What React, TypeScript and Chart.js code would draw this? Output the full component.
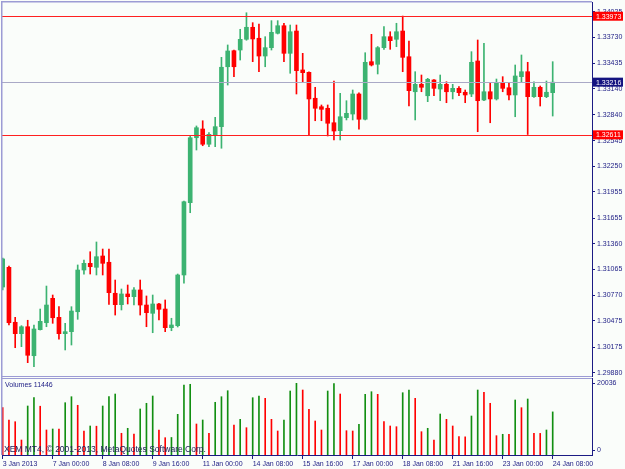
import React, { useEffect, useRef } from 'react';
import { Chart, registerables } from 'chart.js';
Chart.register(...registerables);

// ---- data ----
const TIME_LABELS = ['3 Jan 2013', '7 Jan 00:00', '8 Jan 08:00', '9 Jan 16:00', '11 Jan 00:00', '14 Jan 08:00', '15 Jan 16:00', '17 Jan 00:00', '18 Jan 08:00', '21 Jan 16:00', '23 Jan 00:00', '24 Jan 08:00'];
const LABEL_EVERY = 8;

const OPEN = [1.30864, 1.31090, 1.30459, 1.30328, 1.30408, 1.30075, 1.30374, 1.30454, 1.30734, 1.30516,
  1.30328, 1.30351, 1.30580, 1.31059, 1.31136, 1.31090, 1.31220, 1.31148, 1.30792, 1.30661,
  1.30784, 1.30753, 1.30830, 1.30657, 1.30562, 1.30669, 1.30611, 1.30397, 1.30420, 1.31002,
  1.31832, 1.32578, 1.32678, 1.32503, 1.32609, 1.32705, 1.33393, 1.33577, 1.33585, 1.33708,
  1.33846, 1.33720, 1.33516, 1.33612, 1.33777, 1.33864, 1.33547, 1.33803, 1.33356, 1.33329,
  1.33031, 1.32934, 1.32916, 1.32750, 1.32659, 1.32808, 1.32850, 1.33080, 1.32790, 1.33451,
  1.33421, 1.33612, 1.33738, 1.33708, 1.33803, 1.33508, 1.33106, 1.33191, 1.33060, 1.33241,
  1.33137, 1.33191, 1.33106, 1.33145, 1.33100, 1.33080, 1.33459, 1.33011, 1.33106, 1.33023,
  1.33203, 1.33152, 1.33069, 1.33279, 1.33336, 1.33049, 1.33157, 1.33049, 1.33095];
const HIGH = [1.31197, 1.31105, 1.30516, 1.30420, 1.30482, 1.30428, 1.30611, 1.30875, 1.30772, 1.30638,
  1.30447, 1.30638, 1.31117, 1.31174, 1.31269, 1.31381, 1.31300, 1.31300, 1.30944, 1.30841,
  1.30887, 1.30856, 1.30944, 1.30761, 1.30772, 1.30677, 1.30715, 1.30505, 1.31013, 1.31850,
  1.32598, 1.32713, 1.32773, 1.32636, 1.32812, 1.33501, 1.33643, 1.33585, 1.33823, 1.34013,
  1.33899, 1.33884, 1.33738, 1.33922, 1.33922, 1.33892, 1.33872, 1.33872, 1.33547, 1.33335,
  1.33157, 1.32954, 1.32954, 1.33229, 1.33088, 1.33003, 1.33126, 1.33092, 1.33554, 1.33765,
  1.33625, 1.33853, 1.33795, 1.33892, 1.33975, 1.33689, 1.33336, 1.33298, 1.33260, 1.33246,
  1.33298, 1.33221, 1.33191, 1.33164, 1.33126, 1.33566, 1.33700, 1.33662, 1.33203, 1.33252,
  1.33279, 1.33203, 1.33413, 1.33528, 1.33444, 1.33221, 1.33172, 1.33229, 1.33451];
const LOW = [1.30830, 1.30428, 1.30167, 1.30179, 1.29995, 1.29949, 1.30370, 1.30408, 1.30447, 1.30264,
  1.30141, 1.30198, 1.30493, 1.31010, 1.31013, 1.31002, 1.31002, 1.30665, 1.30542, 1.30600,
  1.30669, 1.30657, 1.30542, 1.30408, 1.30339, 1.30485, 1.30351, 1.30362, 1.30405, 1.30907,
  1.31717, 1.32437, 1.32486, 1.32475, 1.32475, 1.32457, 1.33183, 1.33279, 1.33470, 1.33697,
  1.33451, 1.33336, 1.33393, 1.33585, 1.33769, 1.33451, 1.33318, 1.33080, 1.33221, 1.32609,
  1.32773, 1.32773, 1.32598, 1.32552, 1.32552, 1.32782, 1.32782, 1.32675, 1.32782, 1.33402,
  1.33310, 1.33593, 1.33593, 1.33623, 1.33336, 1.32942, 1.32782, 1.33106, 1.32992, 1.33060,
  1.33003, 1.32980, 1.33023, 1.33060, 1.32980, 1.33049, 1.32647, 1.33003, 1.32750, 1.33011,
  1.33106, 1.33011, 1.32819, 1.33221, 1.32615, 1.33040, 1.32942, 1.33038, 1.32827];
const CLOSE = [1.31186, 1.30454, 1.30328, 1.30408, 1.30080, 1.30382, 1.30470, 1.30657, 1.30511, 1.30328,
  1.30351, 1.30588, 1.31059, 1.31136, 1.31097, 1.31212, 1.31136, 1.30799, 1.30661, 1.30784,
  1.30753, 1.30830, 1.30657, 1.30569, 1.30669, 1.30608, 1.30397, 1.30428, 1.31002, 1.31843,
  1.32578, 1.32693, 1.32503, 1.32617, 1.32705, 1.33387, 1.33574, 1.33393, 1.33708, 1.33846,
  1.33712, 1.33516, 1.33612, 1.33788, 1.33864, 1.33547, 1.33795, 1.33348, 1.33325, 1.33023,
  1.32916, 1.32904, 1.32744, 1.32655, 1.32819, 1.32858, 1.33080, 1.32790, 1.33444, 1.33413,
  1.33612, 1.33738, 1.33692, 1.33795, 1.33501, 1.33118, 1.33191, 1.33157, 1.33249, 1.33145,
  1.33191, 1.33106, 1.33145, 1.33095, 1.33069, 1.33444, 1.33003, 1.33106, 1.33023, 1.33203,
  1.33145, 1.33069, 1.33287, 1.33336, 1.33049, 1.33157, 1.33049, 1.33100, 1.33216];
const VOLUME = [12710, 9010, 8500, 3000, 13220, 15710, 13150, 6010, 6310, 6250,
  14210, 16010, 13430, 5710, 7210, 7150, 13220, 16010, 16820, 5020,
  6520, 4810, 12320, 14030, 16220, 6010, 3700, 3760, 10720, 19530,
  19740, 7810, 9010, 5020, 14330, 16010, 17810, 7510, 9220, 6700,
  15710, 16220, 15530, 9220, 5710, 9010, 17720, 20036, 18020, 12230,
  8710, 6010, 17720, 19980, 16820, 5800, 5710, 7720, 16730, 17510,
  16730, 8500, 7210, 7000, 17210, 18020, 15530, 5500, 6520, 3000,
  10810, 9220, 7210, 4000, 3950, 10210, 18020, 17330, 14030, 4300,
  4720, 4680, 15020, 12710, 15320, 5020, 4990, 6010, 11446];

const PRICE_TICKS = [1.29880, 1.30175, 1.30475, 1.30770, 1.31065, 1.31360, 1.31655, 1.31955, 1.32250, 1.32545, 1.32840, 1.33140, 1.33435, 1.33730, 1.34025];
const VOLUME_TICKS = [0, 20036];
const RESISTANCE = 1.33973;
const SUPPORT = 1.32611;
const BID = 1.33216;
const VOLUME_TITLE = 'Volumes';
const COPYRIGHT = 'XEM MT4, \u00A9 2001-2013, MetaQuotes Software Corp.';

// ---- styles ----
const BG = '#fafdfa';
const NAVY = '#1c1c84';
const FRAME = '#9c9cd4';
const BULL = '#3cb371';
const BEAR = '#ff0000';
const VOL_UP = '#118f11';
const VOL_DOWN = '#ff0000';
const FONT = { family: '"Liberation Sans", Arial, sans-serif', size: 7 };
const FONT_CSS = '7px "Liberation Sans", Arial, sans-serif';

const X_MIN = -0.112;
const X_MAX = 94.288;
const P_MIN = 1.298421;
const P_MAX = 1.341363;
const V_MIN = -1502;
const V_MAX = 21629;

const candleColor = (i: number) => (CLOSE[i] >= OPEN[i] ? BULL : BEAR);

function fitRight(s: any) {
  s.width = 33;
  s.paddingTop = 0;
  s.paddingBottom = 0;
}

function makeMain(canvas: HTMLCanvasElement) {
  const colors = OPEN.map((_, i) => candleColor(i));
  const framePlugin = {
    id: 'mainFrame',
    beforeDraw(chart: any) {
      const c = chart.ctx;
      c.save();
      c.fillStyle = BG;
      c.fillRect(0, 0, chart.width, chart.height);
      c.restore();
    },
    afterDatasetsDraw(chart: any) {
      const c = chart.ctx;
      const a = chart.chartArea;
      const ys = chart.scales.y;
      c.save();
      const hline = (p: number, col: string) => {
        const y = Math.round(ys.getPixelForValue(p)) + 0.5;
        c.strokeStyle = col;
        c.lineWidth = 1;
        c.beginPath();
        c.moveTo(a.left, y);
        c.lineTo(a.right, y);
        c.stroke();
      };
      hline(BID, '#a9a9c6');
      hline(RESISTANCE, '#ff2020');
      hline(SUPPORT, '#ff2020');
      c.fillStyle = FRAME;
      c.fillRect(1, 1, 1.5, a.bottom);
      c.fillRect(1, 1, a.right - 1, 1.5);
      c.fillRect(1, a.bottom, a.right - 1, 1);
      c.restore();
    },
    afterDraw(chart: any) {
      const c = chart.ctx;
      const a = chart.chartArea;
      const ys = chart.scales.y;
      c.save();
      c.font = FONT_CSS;
      c.textBaseline = 'middle';
      const box = (p: number, bg: string) => {
        const y = ys.getPixelForValue(p);
        c.fillStyle = bg;
        c.fillRect(a.right + 1, y - 4.5, 30, 9);
        c.fillStyle = '#ffffff';
        c.fillText(p.toFixed(5), a.right + 4, y + 0.5);
      };
      box(RESISTANCE, '#ff0000');
      box(SUPPORT, '#ff0000');
      box(BID, '#141480');
      c.restore();
    },
  };
  return new Chart(canvas, {
    type: 'bar',
    data: {
      datasets: [
        {
          label: 'wick',
          data: OPEN.map((_, i) => ({ x: i, y: [LOW[i], HIGH[i]] })) as any,
          backgroundColor: colors,
          barThickness: 1,
          grouped: false,
          order: 2,
        } as any,
        {
          label: 'body',
          data: OPEN.map((o, i) => ({ x: i, y: [o, CLOSE[i]] })) as any,
          backgroundColor: colors,
          barThickness: 4,
          minBarLength: 1,
          grouped: false,
          order: 1,
        } as any,
      ],
    },
    options: {
      animation: false,
      responsive: false,
      maintainAspectRatio: false,
      layout: { padding: { left: 2, top: 2, right: 0, bottom: 1 } },
      plugins: { legend: { display: false }, tooltip: { enabled: false } },
      scales: {
        x: { type: 'linear', min: X_MIN, max: X_MAX, offset: false, display: false, grid: { offset: false } },
        y: {
          type: 'linear',
          position: 'right',
          min: P_MIN,
          max: P_MAX,
          afterBuildTicks: (s: any) => { s.ticks = PRICE_TICKS.map((v) => ({ value: v })); },
          afterFit: fitRight,
          grid: { drawOnChartArea: false, drawTicks: true, tickLength: 3, tickColor: NAVY, color: NAVY },
          border: { color: NAVY, width: 1 },
          ticks: {
            autoSkip: false,
            padding: 2,
            color: NAVY,
            font: FONT,
            callback: (v: any) => Number(v).toFixed(5),
          },
        },
      },
    } as any,
    plugins: [framePlugin],
  });
}

function makeVolume(canvas: HTMLCanvasElement) {
  const colors = VOLUME.map((v, i) => (i > 0 && v > VOLUME[i - 1] ? VOL_UP : VOL_DOWN));
  const plugin = {
    id: 'volFrame',
    beforeDraw(chart: any) {
      const c = chart.ctx;
      c.save();
      c.fillStyle = BG;
      c.fillRect(0, 0, chart.width, chart.height);
      c.restore();
    },
    afterDraw(chart: any) {
      const c = chart.ctx;
      const a = chart.chartArea;
      c.save();
      c.fillStyle = FRAME;
      c.fillRect(1, 0, 1.5, a.bottom);
      c.fillRect(1, 1, a.right - 1, 1);
      c.fillStyle = NAVY;
      c.font = FONT_CSS;
      c.textBaseline = 'middle';
      c.fillText(VOLUME_TITLE + ' ' + VOLUME[VOLUME.length - 1], 5, 8.5);
      c.fillStyle = '#20205a';
      c.font = '8.5px "Liberation Sans", Arial, sans-serif';
      c.fillText(COPYRIGHT, 4, 72.5);
      c.restore();
    },
  };
  return new Chart(canvas, {
    type: 'bar',
    data: {
      datasets: [
        {
          label: 'volume',
          data: VOLUME.map((v, i) => ({ x: i, y: v })) as any,
          backgroundColor: colors,
          barThickness: 1,
          grouped: false,
          base: V_MIN,
        } as any,
      ],
    },
    options: {
      animation: false,
      responsive: false,
      maintainAspectRatio: false,
      layout: { padding: { left: 2, top: 1, right: 0, bottom: 0 } },
      plugins: { legend: { display: false }, tooltip: { enabled: false } },
      scales: {
        x: {
          type: 'linear',
          position: 'bottom',
          min: X_MIN,
          max: X_MAX,
          offset: false,
          afterBuildTicks: (s: any) => { s.ticks = TIME_LABELS.map((_, k) => ({ value: k * LABEL_EVERY })); },
          afterFit: (s: any) => { s.height = 14; s.paddingLeft = 0; s.paddingRight = 0; },
          grid: { offset: false, drawOnChartArea: false, drawTicks: true, tickLength: 4, tickColor: NAVY, color: NAVY },
          border: { color: NAVY, width: 1 },
          ticks: {
            autoSkip: false,
            maxRotation: 0,
            minRotation: 0,
            align: 'start',
            padding: 1,
            color: NAVY,
            font: FONT,
            callback: (v: any) => TIME_LABELS[Math.round(Number(v) / LABEL_EVERY)] ?? '',
          },
        },
        y: {
          type: 'linear',
          position: 'right',
          min: V_MIN,
          max: V_MAX,
          afterBuildTicks: (s: any) => { s.ticks = VOLUME_TICKS.map((v) => ({ value: v })); },
          afterFit: fitRight,
          grid: { drawOnChartArea: false, drawTicks: true, tickLength: 3, tickColor: NAVY, color: NAVY },
          border: { color: NAVY, width: 1 },
          ticks: {
            autoSkip: false,
            padding: 2,
            color: NAVY,
            font: FONT,
            callback: (v: any) => String(v),
          },
        },
      },
    } as any,
    plugins: [plugin],
  });
}

export default function App() {
  const mainRef = useRef<HTMLCanvasElement>(null);
  const volRef = useRef<HTMLCanvasElement>(null);
  useEffect(() => {
    const c1 = makeMain(mainRef.current!);
    const c2 = makeVolume(volRef.current!);
    return () => {
      c1.destroy();
      c2.destroy();
    };
  }, []);
  return (
    <div style={{ position: 'absolute', left: 0, top: 0, width: 625, height: 469, background: BG, overflow: 'hidden' }}>
      <canvas ref={mainRef} width={625} height={377} style={{ position: 'absolute', left: 0, top: 0, display: 'block' }} />
      <canvas ref={volRef} width={625} height={92} style={{ position: 'absolute', left: 0, top: 377, display: 'block' }} />
    </div>
  );
}
